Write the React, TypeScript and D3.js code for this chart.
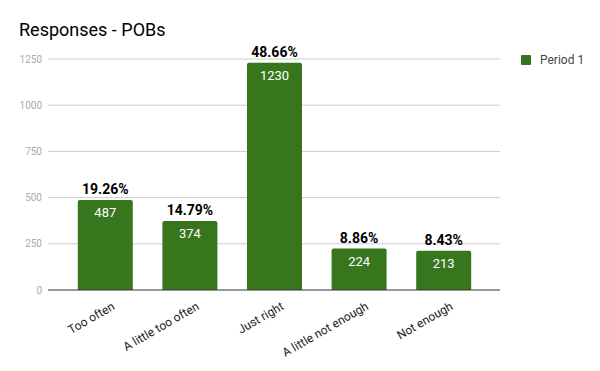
import React from "react";
import * as d3 from "d3";

const categories = ["Too often", "A little too often", "Just right", "A little not enough", "Not enough"];
const values = [487, 374, 1230, 224, 213];
const percents = ["19.26%", "14.79%", "48.66%", "8.86%", "8.43%"];
const yTicks = [0, 250, 500, 750, 1000, 1250];
const seriesName = "Period 1";
const title = "Responses - POBs";

const W = 600, H = 371;
const gridLeft = 48, gridRight = 500;
const top = 59, bottom = 290;
const color = "#38761d";
const font = "Roboto, 'Noto Sans', Arial, sans-serif";

export default function App() {
  const x = d3.scaleBand<string>().domain(categories).range([63, 486]).paddingInner(0.35).paddingOuter(0.175);
  const y = d3.scaleLinear().domain([0, 1250]).range([bottom, top]);
  const bw = x.bandwidth();
  return (
    <svg width={W} height={H} style={{ position: "absolute", left: 0, top: 0, fontFamily: font }}>
      <rect width={W} height={H} fill="#fff" />
      <text x={19} y={36} fontSize={18} fill="#000">{title}</text>
      {yTicks.map((t) => (
        <g key={t}>
          {t !== 0 && <line x1={gridLeft} x2={gridRight} y1={y(t)} y2={y(t)} stroke="#cccccc" strokeWidth={1} />}
          <text x={42} y={y(t) + 3.5} fontSize={10} fill="#aaaaaa" textAnchor="end">{t}</text>
        </g>
      ))}
      {categories.map((c, i) => {
        const x0 = x(c)!;
        const yt = y(values[i]);
        const r = 2;
        const path = `M${x0},${bottom} V${yt + r} Q${x0},${yt} ${x0 + r},${yt} H${x0 + bw - r} Q${x0 + bw},${yt} ${x0 + bw},${yt + r} V${bottom} Z`;
        return (
          <g key={c}>
            <path d={path} fill={color} />
            <text x={x0 + bw / 2} y={yt + 17} fontSize={13} fill="#fff" textAnchor="middle">{values[i]}</text>
            <text x={x0 + bw / 2} y={yt - 6} fontSize={14} fontWeight="bold" fill="#000" textAnchor="middle">{percents[i]}</text>
            <text transform={`translate(${x0 + bw / 2 + 8},${bottom + 15}) rotate(-30)`} fontSize={12} fill="#222" textAnchor="end" dy="0.35em">{c}</text>
          </g>
        );
      })}
      <line x1={gridLeft} x2={gridRight} y1={bottom} y2={bottom} stroke="#333" strokeWidth={1} />
      <rect x={521} y={55} width={10} height={10} rx={1} fill={color} />
      <text x={540} y={64} fontSize={12} fill="#444">{seriesName}</text>
    </svg>
  );
}
